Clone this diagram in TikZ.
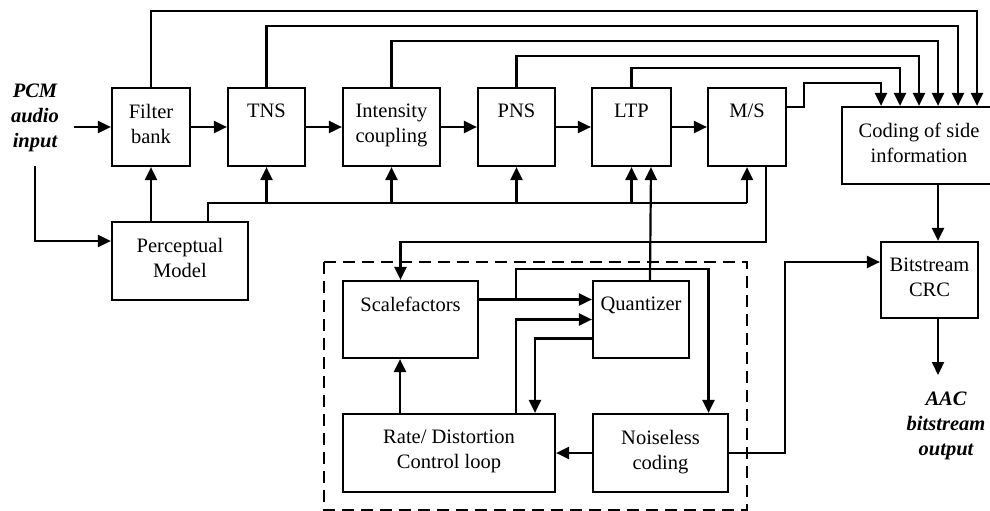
\documentclass[tikz,border=0pt]{standalone}
\usepackage{fontspec}
\setmainfont{Liberation Serif}
\usetikzlibrary{arrows.meta}

\begin{document}
\begin{tikzpicture}[x=1pt,y=-1pt,line width=2.2pt,
    blk/.style={draw, inner sep=0pt},
    lbl/.style={anchor=north, align=center, inner sep=0pt, yshift=-16pt, font=\fontsize{20.5}{25}\selectfont},
    iotxt/.style={anchor=north, align=center, inner sep=0pt, font=\fontsize{20.5}{25}\selectfont\bfseries\itshape},
    arr/.style={-{Triangle[length=13pt,width=12pt]}},
    grp/.style={draw, dash pattern=on 12pt off 7pt}]
    \useasboundingbox (0,0) rectangle (990,511);

    % top chain
    \node[blk, minimum width=78pt, minimum height=78pt] (fb) at (151,127) {};
    \node[lbl] (fbt) at (fb.north) {Filter\\bank};
    \node[blk, minimum width=77pt, minimum height=78pt] (tns) at (266.5,127) {};
    \node[lbl] (tnst) at (tns.north) {TNS};
    \node[blk, minimum width=97pt, minimum height=78pt] (ic) at (391.5,127) {};
    \node[lbl] (ict) at (ic.north) {Intensity\\coupling};
    \node[blk, minimum width=77pt, minimum height=78pt] (pns) at (516.5,127) {};
    \node[lbl] (pnst) at (pns.north) {PNS};
    \node[blk, minimum width=79pt, minimum height=78pt] (ltp) at (631.5,127) {};
    \node[lbl] (ltpt) at (ltp.north) {LTP};
    \node[blk, minimum width=78pt, minimum height=78pt] (ms) at (747,127) {};
    \node[lbl] (mst) at (ms.north) {M/S};
    \node[blk, minimum width=154pt, minimum height=77pt] (side) at (919,145.5) {};
    \node[lbl] (sidet) at (side.north) {Coding of side\\information};
    \node[blk, minimum width=136pt, minimum height=78pt] (pm) at (180,261) {};
    \node[lbl] (pmt) at (pm.north) {Perceptual\\Model};
    \node[blk, minimum width=97pt, minimum height=76pt] (crc) at (929.5,280) {};
    \node[lbl] (crct) at (crc.north) {Bitstream\\CRC};

    % quantisation loop
    \draw[grp] (324,262) rectangle (747,510);
    \node[blk, minimum width=135pt, minimum height=77pt] (sf) at (410.5,319.5) {};
    \node[lbl] (sft) at (sf.north) {Scalefactors};
    \node[blk, minimum width=96pt, minimum height=77pt] (qz) at (641,319.5) {};
    \node[lbl] (qzt) at (qz.north) {Quantizer};
    \node[blk, minimum width=212pt, minimum height=78pt] (rd) at (449,453) {};
    \node[lbl] (rdt) at (rd.north) {Rate/ Distortion\\Control loop};
    \node[blk, minimum width=135pt, minimum height=78pt] (nc) at (660.5,453) {};
    \node[lbl] (nct) at (nc.north) {Noiseless\\coding};

    % input and output
    \node[iotxt] (pcm) at (35,83) {PCM\\audio\\input};
    \node[iotxt] (aac) at (946,391) {AAC\\bitstream\\output};
    \coordinate (inpt) at (74,127);
    \coordinate (indn) at (35,166);
    \coordinate (outpt) at (938,375);
    \coordinate (bus) at (747,203);
    \coordinate (br) at (516,300);

    \draw[arr] (inpt) -- (fb.west);
    \draw[arr] (indn) |- ([yshift=20pt]pm.west);
    \draw[arr] (fb) -- (tns);
    \draw[arr] (tns) -- (ic);
    \draw[arr] (ic) -- (pns);
    \draw[arr] (pns) -- (ltp);
    \draw[arr] (ltp) -- (ms);

    % side information
    \draw[arr] (fb.north) -- ++(0,-76) -| ([xshift=58pt]side.north);
    \draw[arr] (tns.north) -- ++(0,-61) -| ([xshift=39pt]side.north);
    \draw[arr] (ic.north) -- ++(0,-46) -| ([xshift=19pt]side.north);
    \draw[arr] (pns.north) -- ++(0,-31) -| (side.north);
    \draw[arr] (ltp.north) -- ++(0,-19) -| ([xshift=-19pt]side.north);
    \draw[arr] ([yshift=20pt]ms.east) -- ++(17,0) -- ++(0,-24) -| ([xshift=-38pt]side.north);

    % perceptual model
    \draw[arr] (pm.north -| fb) -- (fb.south);
    \draw ([xshift=28pt]pm.north) |- (bus);
    \foreach \n in {tns,ic,pns,ltp,ms}
        \draw[arr] (\n.south |- bus) -- (\n.south);

    \draw[arr] ([xshift=19pt]ms.south) -- ++(0,75) -| ([xshift=-10pt]sf.north);
    \draw[arr] ([xshift=9pt]qz.north) -- ([xshift=19.5pt]ltp.south);

    % loop
    \draw[arr] ([yshift=20pt]sf.east) -- ([yshift=20pt]qz.west);
    \draw[arr] (br) -- ++(0,-31) -| ([xshift=48pt]nc.north);
    \draw[arr] ([xshift=67pt]rd.north) |- (qz.west);
    \draw[arr] ([yshift=-19pt]qz.west) -| ([xshift=86pt]rd.north);
    \draw[arr] ([xshift=-49pt]rd.north) -- ([xshift=-49pt]rd.north |- sf.south);
    \draw[arr] (nc) -- (rd);
    \draw[arr] (nc.east) -- ++(56,0) |- ([yshift=18pt]crc.west);
    \draw[arr] ([xshift=19pt]side.south) -- ([xshift=19pt]side.south |- crc.north);
    \draw[arr] ([xshift=8.5pt]crc.south) -- (outpt);
\end{tikzpicture}
\end{document}
